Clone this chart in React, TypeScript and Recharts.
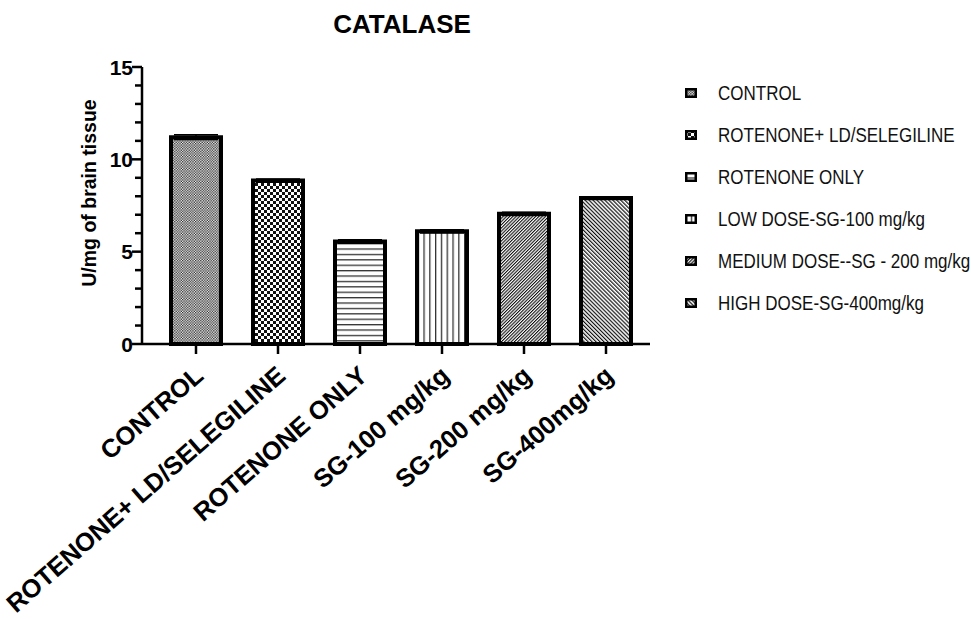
import React from "react";
import { BarChart, Bar, XAxis, YAxis, Cell, ErrorBar } from "recharts";

// CATALASE — grouped treatment bars with SEM caps
const categories = ["CONTROL", "ROTENONE+ LD/SELEGILINE", "ROTENONE ONLY", "SG-100 mg/kg", "SG-200 mg/kg", "SG-400mg/kg"];
const legendLabels = ["CONTROL", "ROTENONE+ LD/SELEGILINE", "ROTENONE ONLY", "LOW DOSE-SG-100 mg/kg", "MEDIUM DOSE--SG - 200 mg/kg", "HIGH DOSE-SG-400mg/kg"];
const catalase = [11.2, 8.85, 5.55, 6.1, 7.05, 7.9];
const sem = [0.13, 0.09, 0.09, 0.09, 0.09, 0.08];
const yTicks = [0, 1, 2, 3, 4, 5, 6, 7, 8, 9, 10, 11, 12, 13, 14, 15];
const yLabelTicks = [0, 5, 10, 15];

const data = categories.map((name, i) => ({ name, value: catalase[i], err: sem[i] }));

const BOLD = "'Liberation Sans', Arial, sans-serif";

if (typeof document !== "undefined") document.body.style.margin = "0";

function Patterns() {
  return (
    <defs>
      <pattern id="pat-0" width="2.6" height="2.6" patternUnits="userSpaceOnUse">
        <rect width="2.6" height="2.6" fill="#fff" />
        <rect width="1.3" height="1.3" fill="#222" />
        <rect x="1.3" y="1.3" width="1.3" height="1.3" fill="#222" />
      </pattern>
      <pattern id="pat-1" width="6" height="6" patternUnits="userSpaceOnUse">
        <rect width="6" height="6" fill="#fff" />
        <rect width="3" height="3" fill="#111" />
        <rect x="3" y="3" width="3" height="3" fill="#111" />
      </pattern>
      <pattern id="pat-2" width="6" height="5.4" patternUnits="userSpaceOnUse">
        <rect width="6" height="5.4" fill="#fff" />
        <rect width="6" height="1.3" fill="#333" />
      </pattern>
      <pattern id="pat-3" width="5.8" height="6" patternUnits="userSpaceOnUse">
        <rect width="5.8" height="6" fill="#fff" />
        <rect width="1.3" height="6" fill="#333" />
      </pattern>
      <pattern id="pat-4" width="2.3" height="4" patternUnits="userSpaceOnUse" patternTransform="rotate(45)">
        <rect width="2.3" height="4" fill="#fff" />
        <rect width="1.1" height="4" fill="#111" />
      </pattern>
      <pattern id="pat-5" width="2.8" height="4" patternUnits="userSpaceOnUse" patternTransform="rotate(-45)">
        <rect width="2.8" height="4" fill="#fff" />
        <rect width="1.2" height="4" fill="#111" />
      </pattern>
    </defs>
  );
}

function XTick(props: any) {
  const { x, y, payload } = props;
  const ax = x + 9;
  const ay = y + 22;
  return (
    <text
      x={ax}
      y={ay}
      transform={`rotate(-41 ${ax} ${ay})`}
      textAnchor="end"
      fontFamily={BOLD}
      fontWeight="bold"
      fontSize={25.5}
      fill="#000"
    >
      {payload.value}
    </text>
  );
}

function YTick(props: any) {
  const { x, y, payload } = props;
  const major = yLabelTicks.includes(payload.value);
  return (
    <g>
      <line x1={x - (major ? 10 : 7)} x2={x} y1={y} y2={y} stroke="#000" strokeWidth={2.5} />
      {major && (
        <text x={x - 9} y={y} textAnchor="end" dominantBaseline="central" fontFamily={BOLD} fontWeight="bold" fontSize={21} fill="#000">
          {payload.value}
        </text>
      )}
    </g>
  );
}

export default function App() {
  return (
    <div style={{ position: "relative", width: 971, height: 619, background: "#fff", fontFamily: BOLD }}>
      <BarChart width={971} height={619} data={data} margin={{ top: 67, right: 321, bottom: 235, left: 82 }}>
        <Patterns />
        <XAxis
          dataKey="name"
          height={40}
          interval={0}
          padding={{ left: 13, right: 3 }}
          axisLine={{ stroke: "#000", strokeWidth: 2.5 }}
          tickLine={{ stroke: "#000", strokeWidth: 2.5 }}
          tickSize={10}
          tick={<XTick />}
        />
        <YAxis
          width={60}
          domain={[0, 15]}
          ticks={yTicks}
          interval={0}
          axisLine={{ stroke: "#000", strokeWidth: 2.5 }}
          tickLine={false}
          tickSize={0}
          tickMargin={0}
          tick={<YTick />}
        />
        <Bar dataKey="value" barSize={50} stroke="#000" strokeWidth={4} isAnimationActive={false}>
          {data.map((d, i) => (
            <Cell key={d.name} fill={`url(#pat-${i})`} />
          ))}
          <ErrorBar dataKey="err" width={22} stroke="#000" strokeWidth={1.5} direction="y" />
        </Bar>
      </BarChart>

      <div style={{ position: "absolute", left: 402, top: 34, transform: "translate(-50%, -80%)", fontFamily: BOLD, fontWeight: "bold", fontSize: 26, whiteSpace: "nowrap" }}>
        CATALASE
      </div>
      <div
        style={{
          position: "absolute",
          left: 89,
          top: 193,
          transform: "translate(-50%, -50%) rotate(-90deg)",
          fontFamily: BOLD,
          fontWeight: "bold",
          fontSize: 19.5,
          whiteSpace: "nowrap",
        }}
      >
        U/mg of brain tissue
      </div>

      {legendLabels.map((label, i) => (
        <div key={label} style={{ position: "absolute", left: 685, top: 93 + i * 42, transform: "translateY(-50%)", display: "flex", alignItems: "center", whiteSpace: "nowrap" }}>
          <svg width={12} height={10} style={{ display: "block" }}>
            <rect x={1.25} y={1.25} width={9.5} height={7.5} fill={`url(#pat-${i})`} stroke="#000" strokeWidth={2.5} />
          </svg>
          <span
            style={{
              marginLeft: 21,
              fontFamily: BOLD,
              fontSize: 20,
              lineHeight: "22px",
              color: "#111",
              display: "inline-block",
              transform: "scaleX(0.85)",
              transformOrigin: "left center",
            }}
          >
            {label}
          </span>
        </div>
      ))}
    </div>
  );
}
